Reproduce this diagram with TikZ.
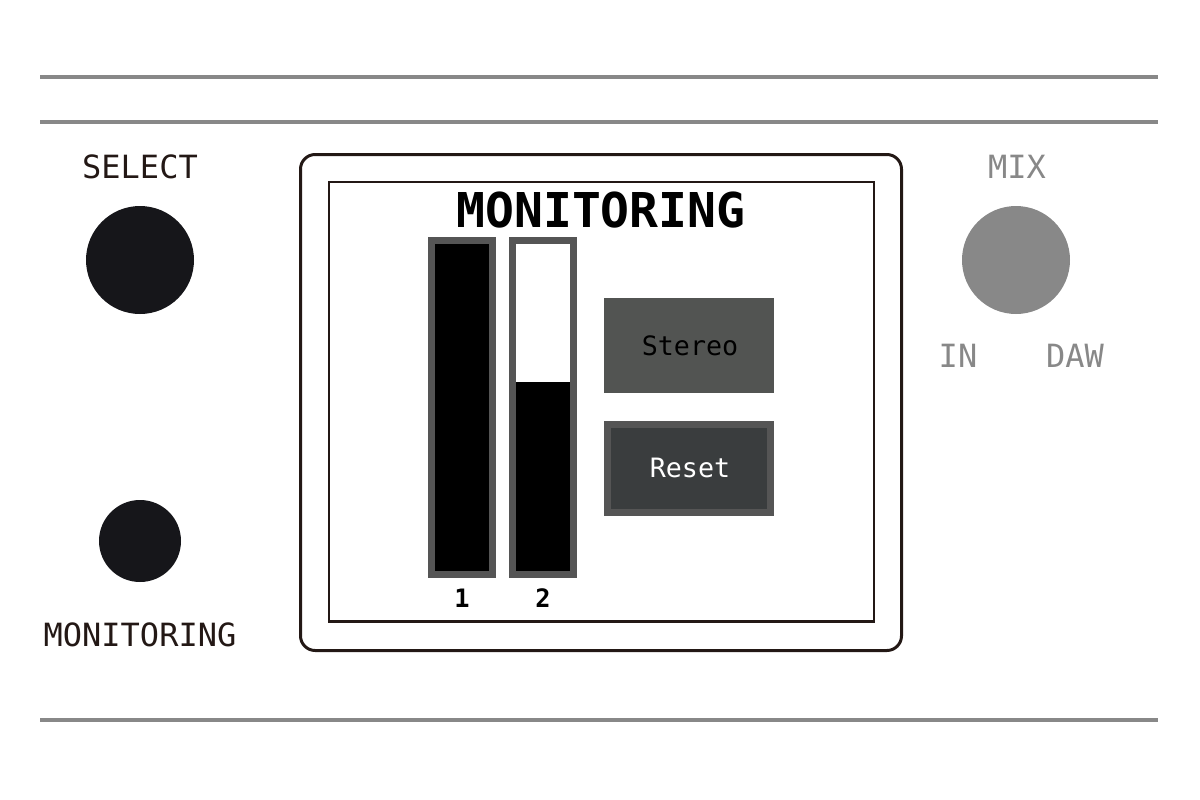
\documentclass[tikz,border=0pt]{standalone}
\usepackage{fontspec}
\newfontfamily\monof{DejaVu Sans Mono}
\definecolor{ink}{HTML}{231815}
\definecolor{knobblack}{HTML}{16161A}
\definecolor{rule}{HTML}{888888}
\definecolor{bargray}{HTML}{555555}
\definecolor{stereofill}{HTML}{525452}
\definecolor{resetfill}{HTML}{3A3D3E}
\begin{document}
\begin{tikzpicture}[x=0.75pt,y=-0.75pt,
  hline/.style={draw=rule,line width=3pt},
  lbl/.style={inner sep=0pt,font=\monof\fontsize{24}{24}\selectfont,text=ink},
  glbl/.style={inner sep=0pt,font=\monof\fontsize{24}{24}\selectfont,text=rule},
  knob/.style={circle,inner sep=0pt,fill=knobblack,minimum size=81pt},
  smallknob/.style={circle,inner sep=0pt,fill=knobblack,minimum size=61.5pt},
  bar/.style={draw=bargray,line width=5.25pt,fill=black},
  btn/.style={inner sep=0pt,font=\monof\fontsize{20}{20}\selectfont}]
\useasboundingbox (0,0) rectangle (1200,800);
% rules
\coordinate (r1a) at (40,77);  \coordinate (r1b) at (1158,77);
\coordinate (r2a) at (40,122); \coordinate (r2b) at (1158,122);
\coordinate (r3a) at (40,720); \coordinate (r3b) at (1158,720);
\draw[hline] (r1a) -- (r1b);
\draw[hline] (r2a) -- (r2b);
\draw[hline] (r3a) -- (r3b);
% left controls
\node[lbl] (selectlbl) at (140,167) {SELECT};
\node[knob] (selectknob) at (140,260) {};
\node[smallknob] (monknob) at (140,541) {};
\node[lbl] (monlbl) at (140,635) {MONITORING};
% right controls
\node[glbl] (mixlbl) at (1017,167) {MIX};
\node[knob,fill=rule] (mixknob) at (1016,260) {};
\node[glbl] (inlbl) at (958,356) {IN};
\node[glbl] (dawlbl) at (1075,356) {DAW};
% screen
\draw[ink,line width=2.25pt,rounded corners=11pt] (300.5,154.5) rectangle (901.5,650.5);
\draw[ink,line width=1.5pt] (329,182) rectangle (874,621);
\draw[ink,line width=2.25pt] (328,621) -- (875,621);
\node[inner sep=0pt,font=\monof\bfseries\fontsize{36}{36}\selectfont] (title) at (601,210) {MONITORING};
% bars
\draw[bar] (431.5,240.5) rectangle (492.5,574.5);
\draw[bar] (512.5,240.5) rectangle (573.5,574.5);
\fill[white] (516,244) rectangle (570,381.5);
\node[inner sep=0pt,font=\monof\bfseries\fontsize{19}{19}\selectfont] (n1) at (462,598) {1};
\node[inner sep=0pt,font=\monof\bfseries\fontsize{19}{19}\selectfont] (n2) at (543,598) {2};
% buttons
\fill[stereofill] (604,298) rectangle (774,393);
\node[btn,text=black] (stereo) at (690,346) {Stereo};
\draw[draw=bargray,line width=5.25pt,fill=resetfill] (607.5,424.5) rectangle (770.5,512.5);
\node[btn,text=white] (reset) at (690,468) {Reset};
\end{tikzpicture}
\end{document}
